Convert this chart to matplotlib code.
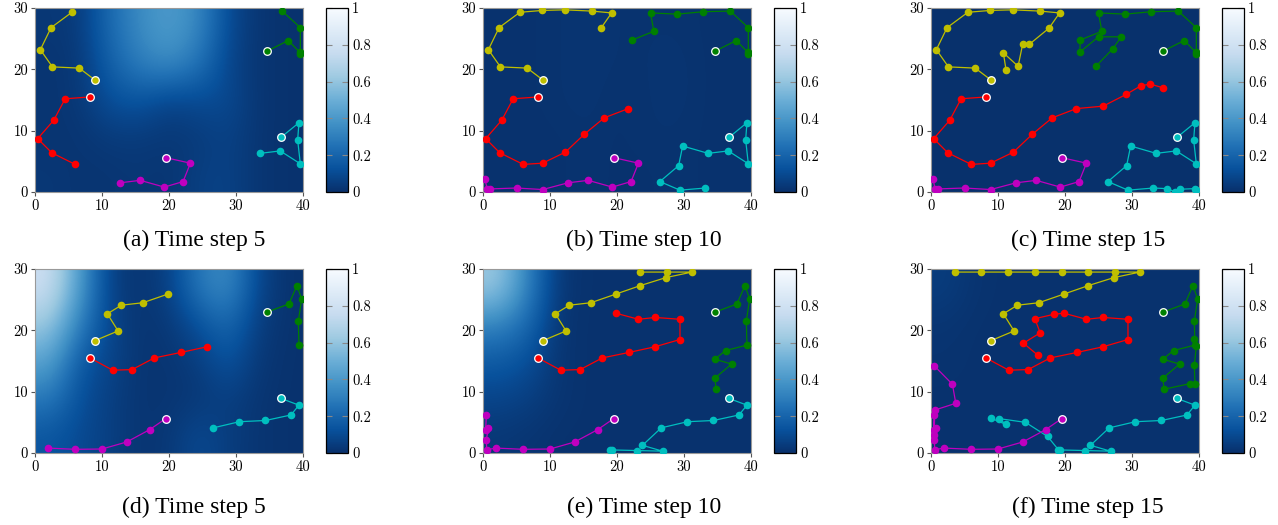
import matplotlib
matplotlib.use('Agg')
from matplotlib import pyplot as plt
from matplotlib.ticker import FuncFormatter
import numpy as np

# ---------------- data ----------------
agents = ['yellow', 'green', 'cyan', 'magenta', 'red']
agent_colors = {'yellow': 'y', 'green': 'g', 'cyan': 'c', 'magenta': 'm', 'red': 'r'}
starts = {'yellow': (8.9, 18.3), 'green': (34.7, 23.0), 'cyan': (36.7, 8.9),
          'magenta': (19.5, 5.6), 'red': (8.2, 15.5)}

# trajectory pieces added in each time step (5, 10, 15), top row
top_yellow = [[(6.6, 20.2), (2.6, 20.4), (0.8, 23.2), (2.4, 26.8), (5.5, 29.3)],
              [(8.8, 29.6), (12.2, 29.7), (16.2, 29.5), (19.2, 29.2), (17.6, 26.7)],
              [(14.7, 24.1), (13.7, 24.2), (13.0, 20.5), (10.8, 22.7), (11.2, 19.9)]]
top_green = [[(37.8, 24.7), (39.5, 22.8), (39.6, 22.5), (39.6, 26.8), (36.9, 29.5)],
             [(32.9, 29.4), (29.0, 29.0), (25.0, 29.2), (25.5, 26.2), (22.3, 24.8)],
             [(22.2, 22.8), (25.0, 25.3), (28.4, 25.3), (27.1, 23.3), (24.7, 20.6)]]
top_cyan = [[(39.4, 11.3), (39.2, 8.5), (39.6, 4.6), (36.6, 6.7), (33.6, 6.3)],
            [(29.8, 7.5), (29.2, 4.3), (26.4, 1.7), (29.4, 0.3), (33.2, 0.65)],
            [(35.2, 0.55), (36.4, 0.05), (37.1, 0.45), (39.4, 0.55), (39.6, 0.4)]]
top_magenta = [[(23.2, 4.7), (22.1, 1.7), (19.3, 0.8), (15.7, 1.9), (12.7, 1.5)],
               [(8.9, 0.4), (5.0, 0.65), (1.0, 0.5), (0.6, 0.5), (0.3, 2.2)],
               []]
top_red = [[(4.5, 15.2), (2.8, 11.7), (0.4, 8.7), (2.5, 6.4), (6.0, 4.5)],
           [(8.9, 4.7), (12.3, 6.5), (15.1, 9.4), (18.1, 12.1), (21.7, 13.6)],
           [(25.7, 14.0), (29.1, 15.9), (31.3, 17.3), (32.7, 17.6), (34.6, 17.0)]]

# bottom row
bot_yellow = [[(12.4, 19.9), (10.8, 22.7), (12.9, 24.1), (16.1, 24.5), (19.8, 25.9)],
              [(23.5, 27.3), (27.3, 28.6), (31.2, 29.5), (27.4, 29.5), (23.5, 29.5)],
              [(19.5, 29.5), (15.5, 29.5), (11.5, 29.5), (7.5, 29.5), (3.6, 29.5)]]
bot_green = [[(37.9, 24.3), (39.1, 27.3), (39.8, 25.1), (39.3, 21.5), (39.4, 17.6)],
             [(36.2, 16.7), (34.6, 15.3), (37.1, 14.5), (34.6, 12.2), (34.8, 10.4)],
             [(38.6, 11.3), (39.4, 11.3), (39.3, 14.3), (39.6, 17.4), (39.3, 18.6)]]
bot_cyan = [[(39.4, 7.8), (38.2, 6.2), (34.4, 5.3), (30.5, 5.1), (26.6, 4.1)],
            [(23.8, 1.25), (26.8, 0.3), (23.0, 0.4), (19.2, 0.5), (19.0, 0.55)],
            [(17.4, 2.7), (14.1, 5.0), (10.2, 5.6), (11.2, 4.65), (9.0, 5.65)]]
bot_magenta = [[(17.1, 3.8), (13.7, 1.8), (10.0, 0.65), (6.0, 0.6), (2.0, 0.8)],
               [(0.55, 0.55), (0.5, 2.2), (0.8, 4.0), (0.4, 3.8), (0.5, 6.2)],
               [(0.5, 3.0), (0.55, 7.0), (3.7, 8.1), (3.2, 11.2), (0.5, 14.2)]]
bot_red = [[(11.6, 13.5), (14.5, 13.6), (17.8, 15.5), (21.8, 16.4), (25.6, 17.3)],
           [(29.4, 18.5), (29.4, 21.8), (25.7, 22.1), (23.2, 21.8), (19.8, 22.8)],
           [(18.3, 22.6), (15.5, 21.9), (16.3, 19.6), (13.8, 17.9), (16.0, 15.9)]]

rows = [{'yellow': top_yellow, 'green': top_green, 'cyan': top_cyan,
         'magenta': top_magenta, 'red': top_red},
        {'yellow': bot_yellow, 'green': bot_green, 'cyan': bot_cyan,
         'magenta': bot_magenta, 'red': bot_red}]

# coarse background fields, rows y = 0, 7.5, 15, 22.5, 30 ; cols x = 0..40 step 5
field_a = [[0.03, 0.02, 0.02, 0.03, 0.02, 0.06, 0.07, 0.02, 0.01],
           [0.02, 0.02, 0.04, 0.04, 0.03, 0.04, 0.07, 0.02, 0.01],
           [0.02, 0.03, 0.12, 0.14, 0.07, 0.10, 0.10, 0.02, 0.01],
           [0.02, 0.03, 0.18, 0.30, 0.36, 0.26, 0.08, 0.02, 0.01],
           [0.03, 0.04, 0.22, 0.35, 0.42, 0.34, 0.10, 0.02, 0.01]]
field_b = [[0.01, 0.01, 0.01, 0.015, 0.01, 0.01, 0.015, 0.01, 0.01],
           [0.01, 0.01, 0.01, 0.015, 0.01, 0.015, 0.015, 0.01, 0.01],
           [0.01, 0.01, 0.015, 0.02, 0.01, 0.015, 0.02, 0.01, 0.01],
           [0.01, 0.01, 0.015, 0.02, 0.015, 0.015, 0.02, 0.01, 0.01],
           [0.01, 0.01, 0.015, 0.02, 0.015, 0.015, 0.015, 0.01, 0.01]]
field_c = [[0.005] * 9 for _ in range(5)]
field_d = [[0.14, 0.10, 0.06, 0.02, 0.03, 0.10, 0.05, 0.02, 0.01],
           [0.28, 0.12, 0.06, 0.02, 0.02, 0.03, 0.06, 0.02, 0.01],
           [0.45, 0.15, 0.08, 0.02, 0.02, 0.05, 0.14, 0.03, 0.01],
           [0.62, 0.30, 0.08, 0.02, 0.03, 0.12, 0.22, 0.05, 0.01],
           [0.78, 0.42, 0.06, 0.02, 0.06, 0.28, 0.36, 0.08, 0.01]]
field_e = [[0.03, 0.02, 0.01, 0.01, 0.01, 0.01, 0.01, 0.01, 0.01],
           [0.08, 0.06, 0.02, 0.01, 0.01, 0.01, 0.01, 0.01, 0.01],
           [0.16, 0.12, 0.02, 0.01, 0.01, 0.01, 0.01, 0.01, 0.01],
           [0.32, 0.22, 0.02, 0.01, 0.01, 0.01, 0.01, 0.01, 0.01],
           [0.62, 0.32, 0.03, 0.01, 0.01, 0.01, 0.01, 0.01, 0.01]]
field_f = [[0.01, 0.01, 0.01, 0.01, 0.01, 0.01, 0.01, 0.01, 0.01],
           [0.01, 0.01, 0.01, 0.01, 0.01, 0.01, 0.01, 0.01, 0.01],
           [0.015, 0.01, 0.01, 0.01, 0.01, 0.01, 0.01, 0.01, 0.01],
           [0.02, 0.01, 0.01, 0.01, 0.01, 0.01, 0.01, 0.01, 0.01],
           [0.05, 0.015, 0.01, 0.01, 0.01, 0.01, 0.01, 0.01, 0.01]]
fields = [[field_a, field_b, field_c], [field_d, field_e, field_f]]

captions = [['(a) Time step 5', '(b) Time step 10', '(c) Time step 15'],
            ['(d) Time step 5', '(e) Time step 10', '(f) Time step 15']]
cbar_ticks = [0, 0.2, 0.4, 0.6, 0.8, 1]

# ---------------- layout ----------------
W, H = 1278, 525
fig = plt.figure(figsize=(W / 100, H / 100), dpi=100)
col_left = [35, 483, 931]
cbar_left = [326, 774, 1222]
row_top = [8, 269]
ax_w, ax_h, cb_w = 268, 184, 22
cap_x = [194, 644, 1088]
cap_y = [240, 507]
tickfont = 'cmr10'

def fmt(v, pos):
    return '%d' % v if v in (0, 1) else '%.1f' % v

for r in range(2):
    for c in range(3):
        ax = fig.add_axes([col_left[c] / W, 1 - (row_top[r] + ax_h) / H, ax_w / W, ax_h / H])
        im = ax.imshow(np.array(fields[r][c]), origin='lower', extent=[0, 40, 0, 30],
                       cmap='Blues_r', vmin=0, vmax=1, interpolation='bicubic', aspect='auto')
        for name in agents:
            pts = [starts[name]]
            for seg in rows[r][name][:c + 1]:
                pts += seg
            xs = [p[0] for p in pts]
            ys = [p[1] for p in pts]
            col = agent_colors[name]
            ax.plot(xs, ys, '-', color=col, lw=0.9, zorder=2)
            ax.plot(xs[1:], ys[1:], 'o', color=col, ms=5.5, mec='none', zorder=3)
            ax.plot(xs[0], ys[0], 'o', color=col, ms=5.5, mec='white', mew=0.9, zorder=4)
        ax.set_xlim(0, 40)
        ax.set_ylim(0, 30)
        ax.set_xticks([0, 10, 20, 30, 40])
        ax.set_yticks([0, 10, 20, 30])
        for s in ax.spines.values():
            s.set_color('#999999')
            s.set_linewidth(0.8)
        ax.tick_params(direction='out', length=3, width=0.8, color='#555555', pad=2, labelsize=10.5)
        for lab in ax.get_xticklabels() + ax.get_yticklabels():
            lab.set_family(tickfont)
        cax = fig.add_axes([cbar_left[c] / W, 1 - (row_top[r] + ax_h) / H, cb_w / W, ax_h / H])
        cb = fig.colorbar(im, cax=cax, ticks=cbar_ticks, format=FuncFormatter(fmt))
        cb.outline.set_linewidth(0.9)
        cax.tick_params(direction='in', length=4, width=0.8, color='#888888', pad=3,
                        labelsize=10.5, left=True)
        for lab in cax.get_yticklabels():
            lab.set_family(tickfont)
        fig.text(cap_x[c] / W, 1 - cap_y[r] / H, captions[r][c], ha='center', va='center',
                 family='Liberation Serif', fontsize=17)

plt.savefig('out.png', dpi=100)
plt.close()
